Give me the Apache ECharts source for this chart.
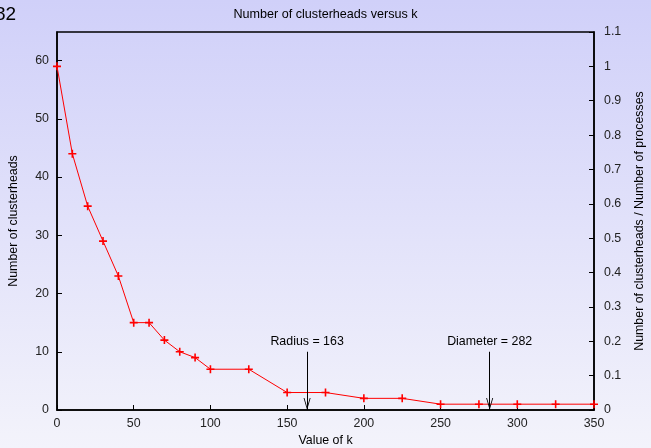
<!DOCTYPE html>
<html>
<head>
<meta charset="utf-8">
<script src="https://cdn.jsdelivr.net/npm/echarts@6/dist/echarts.min.js"></script>
<style>
html,body{margin:0;padding:0;}
#chart{width:651px;height:448px;}
</style>
</head>
<body>
<div id="chart"></div>
<script>
const kValues = [0, 10, 20, 30, 40, 50, 60, 70, 80, 90, 100, 125, 150, 175, 200, 225, 250, 275, 300, 325, 350];
const clusterheads = [59, 44, 35, 29, 23, 15, 15, 12, 10, 9, 7, 7, 3, 3, 2, 2, 1, 1, 1, 1, 1];
const annotations = [
  { k: 163, label: 'Radius = 163' },
  { k: 282, label: 'Diameter = 282' }
];
const arrowTop = 10;
const numProcesses = 59;

const font = 'Liberation Sans, Arial, sans-serif';
const fs = 12.4;
const chart = echarts.init(document.getElementById('chart'));
const plusPath = 'path://M4,0 L6,0 L6,4 L10,4 L10,6 L6,6 L6,10 L4,10 L4,6 L0,6 L0,4 L4,4 Z';
// open arrow head whose tip sits at the centre of its bounding box
const vPath = 'path://M5,0 M5,10 L10,20 L8.8,20 L5,12.4 L1.2,20 L0,20 Z';

chart.setOption({
  animation: false,
  backgroundColor: {
    type: 'linear', x: 0, y: 0, x2: 0, y2: 1,
    colorStops: [{ offset: 0, color: '#d0d0f9' }, { offset: 1, color: '#f3f3fb' }]
  },
  textStyle: { fontFamily: font },
  title: {
    text: 'Number of clusterheads versus k',
    left: 'center', top: 3,
    textStyle: { fontSize: 12.6, fontWeight: 'normal', color: '#000', fontFamily: font }
  },
  graphic: [{
    type: 'text', left: -5, top: 5,
    style: { text: '82', fontSize: 19, fill: '#000', fontFamily: font }
  }],
  grid: {
    left: 57, right: 57, top: 32, bottom: 38,
    outerBoundsMode: 'none', containLabel: false,
    show: true, borderColor: '#000', borderWidth: 1.5, backgroundColor: 'transparent'
  },
  xAxis: {
    type: 'value', min: 0, max: 350, interval: 50,
    name: 'Value of k', nameLocation: 'middle', nameGap: 22,
    nameTextStyle: { fontSize: fs, color: '#000' },
    axisLine: { lineStyle: { color: '#000', width: 1.5 } },
    axisTick: { inside: true, length: 5, lineStyle: { color: '#000' } },
    axisLabel: { fontSize: fs, color: '#222', margin: 8 },
    splitLine: { show: false }
  },
  yAxis: [{
    type: 'value', min: 0, max: numProcesses * 1.1, interval: 10,
    name: 'Number of clusterheads', nameLocation: 'middle', nameGap: 37, nameRotate: 90,
    nameTextStyle: { fontSize: fs, color: '#000' },
    axisLine: { show: true, lineStyle: { color: '#000', width: 1.5 } },
    axisTick: { show: true, inside: true, length: 5, lineStyle: { color: '#000' } },
    axisLabel: { fontSize: fs, color: '#222', margin: 8, showMaxLabel: false },
    splitLine: { show: false }
  }, {
    type: 'value', min: 0, max: 1.1, interval: 0.1, position: 'right',
    name: 'Number of clusterheads / Number of processes', nameLocation: 'middle', nameGap: 40, nameRotate: 90,
    nameTextStyle: { fontSize: fs, color: '#000' },
    axisLine: { show: true, lineStyle: { color: '#000', width: 1.5 } },
    axisTick: { show: true, inside: true, length: 5, lineStyle: { color: '#000' } },
    axisLabel: { fontSize: fs, color: '#222', margin: 10, formatter: v => String(Math.round(v * 10) / 10) },
    splitLine: { show: false }
  }],
  series: [{
    type: 'line',
    data: kValues.map((k, i) => [k, clusterheads[i]]),
    lineStyle: { color: '#ff0000', width: 1 },
    itemStyle: { color: '#ff0000' },
    symbol: plusPath, symbolSize: 8,
    clip: false,
    markLine: {
      silent: true,
      symbol: ['none', vPath],
      symbolSize: [7, 24],
      lineStyle: { color: '#000', width: 1, type: 'solid' },
      label: { show: true, position: 'start', fontSize: fs, color: '#000', distance: 4, formatter: p => p.name },
      data: annotations.map(a => [{ coord: [a.k, arrowTop], name: a.label }, { coord: [a.k, 0] }])
    }
  }]
});
</script>
</body>
</html>
